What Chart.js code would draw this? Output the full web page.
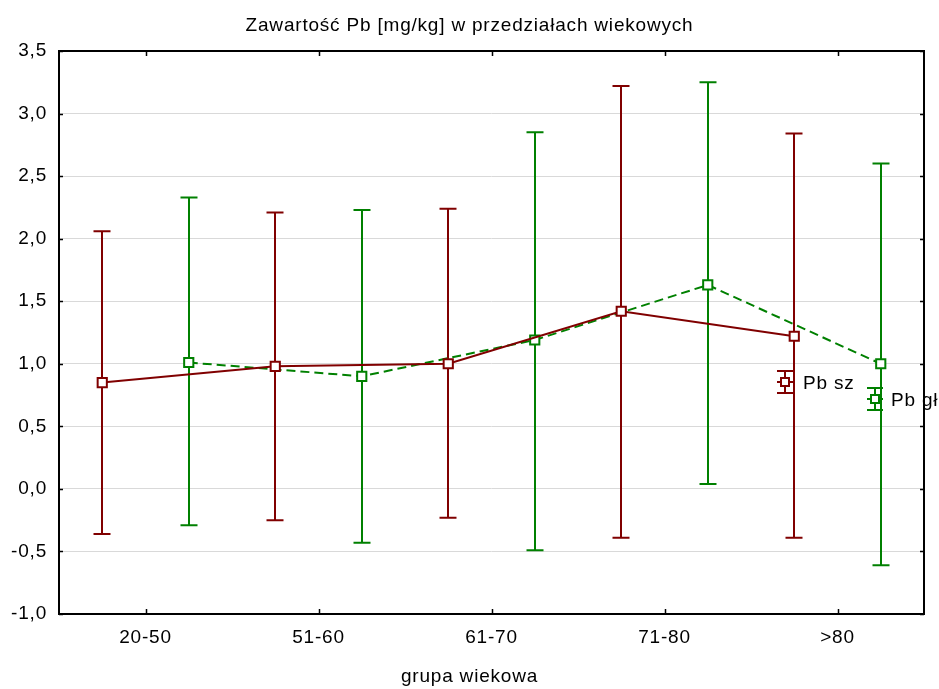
<!DOCTYPE html>
<html>
<head>
<meta charset="utf-8">
<title>Zawartość Pb</title>
<script src="https://cdn.jsdelivr.net/npm/chart.js@4/dist/chart.umd.min.js"></script>
<style>
  html, body { margin: 0; padding: 0; background: #ffffff; }
  canvas { display: block; }
</style>
</head>
<body>
<canvas id="c" width="939" height="689"></canvas>
<script>
// Age groups on the x axis
const categories = ['20-50', '51-60', '61-70', '71-80', '>80'];

// Pb sz: mean with lower / upper whisker
const szMean = [0.85, 0.98, 1.00, 1.42, 1.22];
const szLow  = [-0.36, -0.25, -0.23, -0.39, -0.39];
const szHigh = [2.06, 2.21, 2.24, 3.22, 2.84];

// Pb gł: mean with lower / upper whisker
const glMean = [1.01, 0.90, 1.19, 1.63, 1.00];
const glLow  = [-0.29, -0.43, -0.49, 0.04, -0.61];
const glHigh = [2.33, 2.23, 2.85, 3.25, 2.60];

// y axis range and step
const yMin = -1.0, yMax = 3.5, yStep = 0.5;

const RED = '#800000';
const GREEN = '#008000';
const FONT = '"Liberation Sans", Arial, sans-serif';
const FONT_SIZE = 19;
const SPACING = '0.8px';

// each group gets two slots: left for Pb sz, right for Pb gł
const szPoints = szMean.map((v, i) => ({ x: i + 0.25, y: v }));
const glPoints = glMean.map((v, i) => ({ x: i + 0.75, y: v }));

function setSpacing(ctx) { if ('letterSpacing' in ctx) ctx.letterSpacing = SPACING; }

const errorBars = {
  id: 'errorBars',
  beforeUpdate(chart) { setSpacing(chart.ctx); },
  beforeDraw(chart) { setSpacing(chart.ctx); },
  beforeDatasetsDraw(chart) {
    const { ctx, scales: { x, y } } = chart;
    const groups = [
      { low: szLow, high: szHigh, off: 0.25, color: RED },
      { low: glLow, high: glHigh, off: 0.75, color: GREEN }
    ];
    ctx.save();
    ctx.lineWidth = 2;
    groups.forEach(g => {
      ctx.strokeStyle = g.color;
      g.low.forEach((lo, i) => {
        const px = Math.round(x.getPixelForValue(i + g.off));
        const y1 = y.getPixelForValue(lo);
        const y2 = y.getPixelForValue(g.high[i]);
        ctx.beginPath();
        ctx.moveTo(px, y1); ctx.lineTo(px, y2);
        ctx.moveTo(px - 8.5, y1); ctx.lineTo(px + 8.5, y1);
        ctx.moveTo(px - 8.5, y2); ctx.lineTo(px + 8.5, y2);
        ctx.stroke();
      });
    });
    ctx.restore();
  },
  afterDraw(chart) {
    const { ctx, chartArea: a, scales: { x, y } } = chart;
    ctx.save();
    setSpacing(ctx);

    // legend inside the plot area; its text runs past the right frame
    const items = [
      { label: 'Pb sz', color: RED, dx: 726, dy: 331, gap: 18 },
      { label: 'Pb gł', color: GREEN, dx: 816, dy: 348, gap: 16 }
    ];
    items.forEach(it => {
      const cx = a.left + it.dx, cy = a.top + it.dy;
      ctx.strokeStyle = it.color;
      ctx.lineWidth = 2;
      ctx.beginPath();
      ctx.moveTo(cx, cy - 11); ctx.lineTo(cx, cy + 11);
      ctx.moveTo(cx - 8, cy - 11); ctx.lineTo(cx + 8, cy - 11);
      ctx.moveTo(cx - 8, cy + 11); ctx.lineTo(cx + 8, cy + 11);
      ctx.moveTo(cx - 8, cy); ctx.lineTo(cx + 8, cy);
      ctx.stroke();
      ctx.fillStyle = '#fff';
      ctx.fillRect(cx - 4, cy - 4, 8, 8);
      ctx.strokeRect(cx - 4, cy - 4, 8, 8);
      ctx.fillStyle = '#000';
      ctx.font = FONT_SIZE + 'px ' + FONT;
      ctx.textAlign = 'left';
      ctx.textBaseline = 'middle';
      ctx.fillText(it.label, cx + it.gap, cy + 2);
    });

    // frame
    ctx.strokeStyle = '#000';
    ctx.lineWidth = 2;
    ctx.strokeRect(a.left, a.top, a.right - a.left, a.bottom - a.top);

    // inward tick marks on all four sides
    ctx.lineWidth = 1.5;
    ctx.beginPath();
    y.ticks.forEach(t => {
      const py = Math.round(y.getPixelForValue(t.value)) + 0.5;
      ctx.moveTo(a.left, py); ctx.lineTo(a.left + 4, py);
      ctx.moveTo(a.right, py); ctx.lineTo(a.right - 4, py);
    });
    x.ticks.forEach(t => {
      const px = Math.round(x.getPixelForValue(t.value)) + 0.5;
      ctx.moveTo(px, a.bottom); ctx.lineTo(px, a.bottom - 5);
      ctx.moveTo(px, a.top); ctx.lineTo(px, a.top + 5);
    });
    ctx.stroke();

    // title and x axis title
    ctx.fillStyle = '#000';
    ctx.font = FONT_SIZE + 'px ' + FONT;
    ctx.textAlign = 'center';
    ctx.textBaseline = 'alphabetic';
    ctx.fillText('Zawartość Pb [mg/kg] w przedziałach wiekowych', chart.width / 2, 31);
    ctx.textBaseline = 'middle';
    ctx.fillText('grupa wiekowa', chart.width / 2, 677);
    ctx.restore();
  }
};

new Chart(document.getElementById('c'), {
  type: 'line',
  data: {
    datasets: [
      {
        label: 'Pb sz',
        data: szPoints,
        borderColor: RED,
        borderWidth: 2,
        pointStyle: 'rect',
        pointRadius: 6.5,
        pointBorderWidth: 2,
        pointBackgroundColor: '#fff',
        pointBorderColor: RED,
        tension: 0,
        order: 0
      },
      {
        label: 'Pb gł',
        data: glPoints,
        borderColor: GREEN,
        borderWidth: 2,
        borderDash: [9, 5],
        pointStyle: 'rect',
        pointRadius: 6.5,
        pointBorderWidth: 2,
        pointBackgroundColor: '#fff',
        pointBorderColor: GREEN,
        tension: 0,
        order: 1
      }
    ]
  },
  options: {
    responsive: false,
    animation: false,
    devicePixelRatio: 1,
    layout: { padding: { top: 51, right: 15, left: 0, bottom: 0 } },
    plugins: {
      legend: { display: false },
      title: { display: false },
      tooltip: { enabled: false }
    },
    scales: {
      x: {
        type: 'linear',
        min: 0,
        max: categories.length,
        afterBuildTicks: axis => { axis.ticks = categories.map((c, i) => ({ value: i + 0.5 })); },
        afterFit: axis => { axis.height = 75; },
        grid: { display: false, drawTicks: false },
        border: { display: false },
        ticks: {
          autoSkip: false,
          maxRotation: 0,
          padding: 12,
          color: '#000',
          font: { family: FONT, size: FONT_SIZE },
          callback: v => categories[Math.floor(v)]
        }
      },
      y: {
        min: yMin,
        max: yMax,
        afterFit: axis => { axis.width = 59; },
        grid: { color: '#d9d9d9', lineWidth: 1, drawTicks: false },
        border: { display: false },
        ticks: {
          stepSize: yStep,
          padding: 12,
          color: '#000',
          font: { family: FONT, size: FONT_SIZE },
          callback: v => v.toFixed(1).replace('.', ',')
        }
      }
    }
  },
  plugins: [errorBars]
});
</script>
</body>
</html>
